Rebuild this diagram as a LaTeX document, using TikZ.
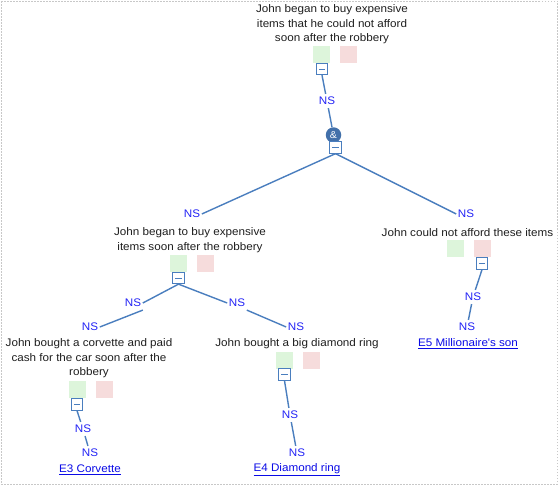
\documentclass[tikz,border=0pt]{standalone}
\usepackage{fontspec}
\setmainfont{Liberation Sans}[FakeStretch=1.06]
\usetikzlibrary{calc}
\tikzset{>=stealth,
  claim/.style={align=center, text=claimtext, inner sep=0pt, font=\fontsize{11}{14.5}\selectfont},
  nslabel/.style={text=nsblue, inner xsep=1.5pt, inner ysep=3pt, font=\fontsize{11}{13}\selectfont},
  evidence/.style={text=linkblue, inner sep=0pt, font=\fontsize{11}{13}\selectfont},
  fold/.style={draw=edgeblue, fill=white, line width=0.8pt, minimum size=11.5pt, inner sep=0pt,
    path picture={\draw [edgeblue, line width=0.8pt] ([xshift=2.5pt]path picture bounding box.west) -- ([xshift=-2.5pt]path picture bounding box.east);}},
  andnode/.style={circle, fill=andblue, text=white, minimum size=15.5pt, inner sep=0pt, font=\fontsize{10}{10}\selectfont},
  edge/.style={draw=edgeblue, line width=1.4pt}
}

\begin{document}
\begin{tikzpicture}[x=1pt,y=-1pt]
      \definecolor{edgeblue}{RGB}{74,126,190}
      \definecolor{andblue}{RGB}{66,112,170}
      \definecolor{nsblue}{RGB}{35,35,245}
      \definecolor{linkblue}{RGB}{10,10,230}
      \definecolor{claimtext}{RGB}{30,30,30}
      \definecolor{probox}{RGB}{221,245,219}
      \definecolor{conbox}{RGB}{246,220,220}
      \definecolor{framegray}{RGB}{200,200,200}
\useasboundingbox (0,0) rectangle (560,485);
% dotted frame round the whole view
\draw [framegray, line width=1pt, dash pattern=on 1.5pt off 1.5pt] (1,1) rectangle (557,484);

% the claims
\node [claim] (top) at (332,24.5) {John began to buy expensive\\items that he could not afford\\soon after the robbery};
\node [claim] (buy) at (190,240) {John began to buy expensive\\items soon after the robbery};
\node [claim] (afford) at (467.5,233) {John could not afford these items};
\node [claim] (corvette) at (89,358.5) {John bought a corvette and paid\\cash for the car soon after the\\robbery};
\node [claim] (ring) at (297,344) {John bought a big diamond ring};

% green and red boxes under each claim
\foreach \x/\y in {321.5/54.5, 178.5/263.5, 455/248.5, 77/389.5, 284/360.5}
{
	\draw [draw=none, fill=probox] (\x-8.5,\y-8.5) rectangle (\x+8.5,\y+8.5);
	\draw [draw=none, fill=conbox] (\x+18.5,\y-8.5) rectangle (\x+35.5,\y+8.5);
}

% the NS labels along the links
\foreach \name/\x/\y in {ns0/327/101, ns1/192/214, ns2/466/214, ns3/133/303, ns4/90/327,
	ns5/237/303, ns6/296/327, ns7/83/429, ns8/90/453, ns9/290/415, ns10/297/453,
	ns11/473/297, ns12/467/327}
	\node [nslabel] (\name) at (\x,\y) {NS};

% evidence at the leaves
\node [evidence] (e3) at (90,470) {\underline{E3 Corvette}};
\node [evidence] (e4) at (297,470) {\underline{E4 Diamond ring}};
\node [evidence] (e5) at (468,344) {\underline{E5 Millionaire\textquotesingle s son}};

% the & junction and the fold boxes
\node [andnode] (and) at (333.5,135) {\&};
\node [fold] (topfold) at (322,69) {};
\node [fold] (andfold) at (335.5,147.5) {};
\node [fold] (buyfold) at (178.5,278) {};
\node [fold] (affordfold) at (482,263.5) {};
\node [fold] (corvettefold) at (77,404.5) {};
\node [fold] (ringfold) at (284.5,374.5) {};

% links
\draw [edge] (topfold.south) -- (ns0) -- (and);
\draw [edge] (andfold.south) -- (ns1.east);
\draw [edge] (andfold.south) -- (ns2.west);
\draw [edge] (buyfold.south) -- (ns3.east);
\draw [edge] (ns3.south east) -- (ns4.east);
\draw [edge] (buyfold.south) -- (ns5.west);
\draw [edge] (ns5.south east) -- (ns6.west);
\draw [edge] (corvettefold.south) -- (ns7) -- (ns8);
\draw [edge] (ringfold.south) -- (ns9) -- (ns10);
\draw [edge] (affordfold.south) -- (ns11) -- (ns12);
\end{tikzpicture}
\end{document}
